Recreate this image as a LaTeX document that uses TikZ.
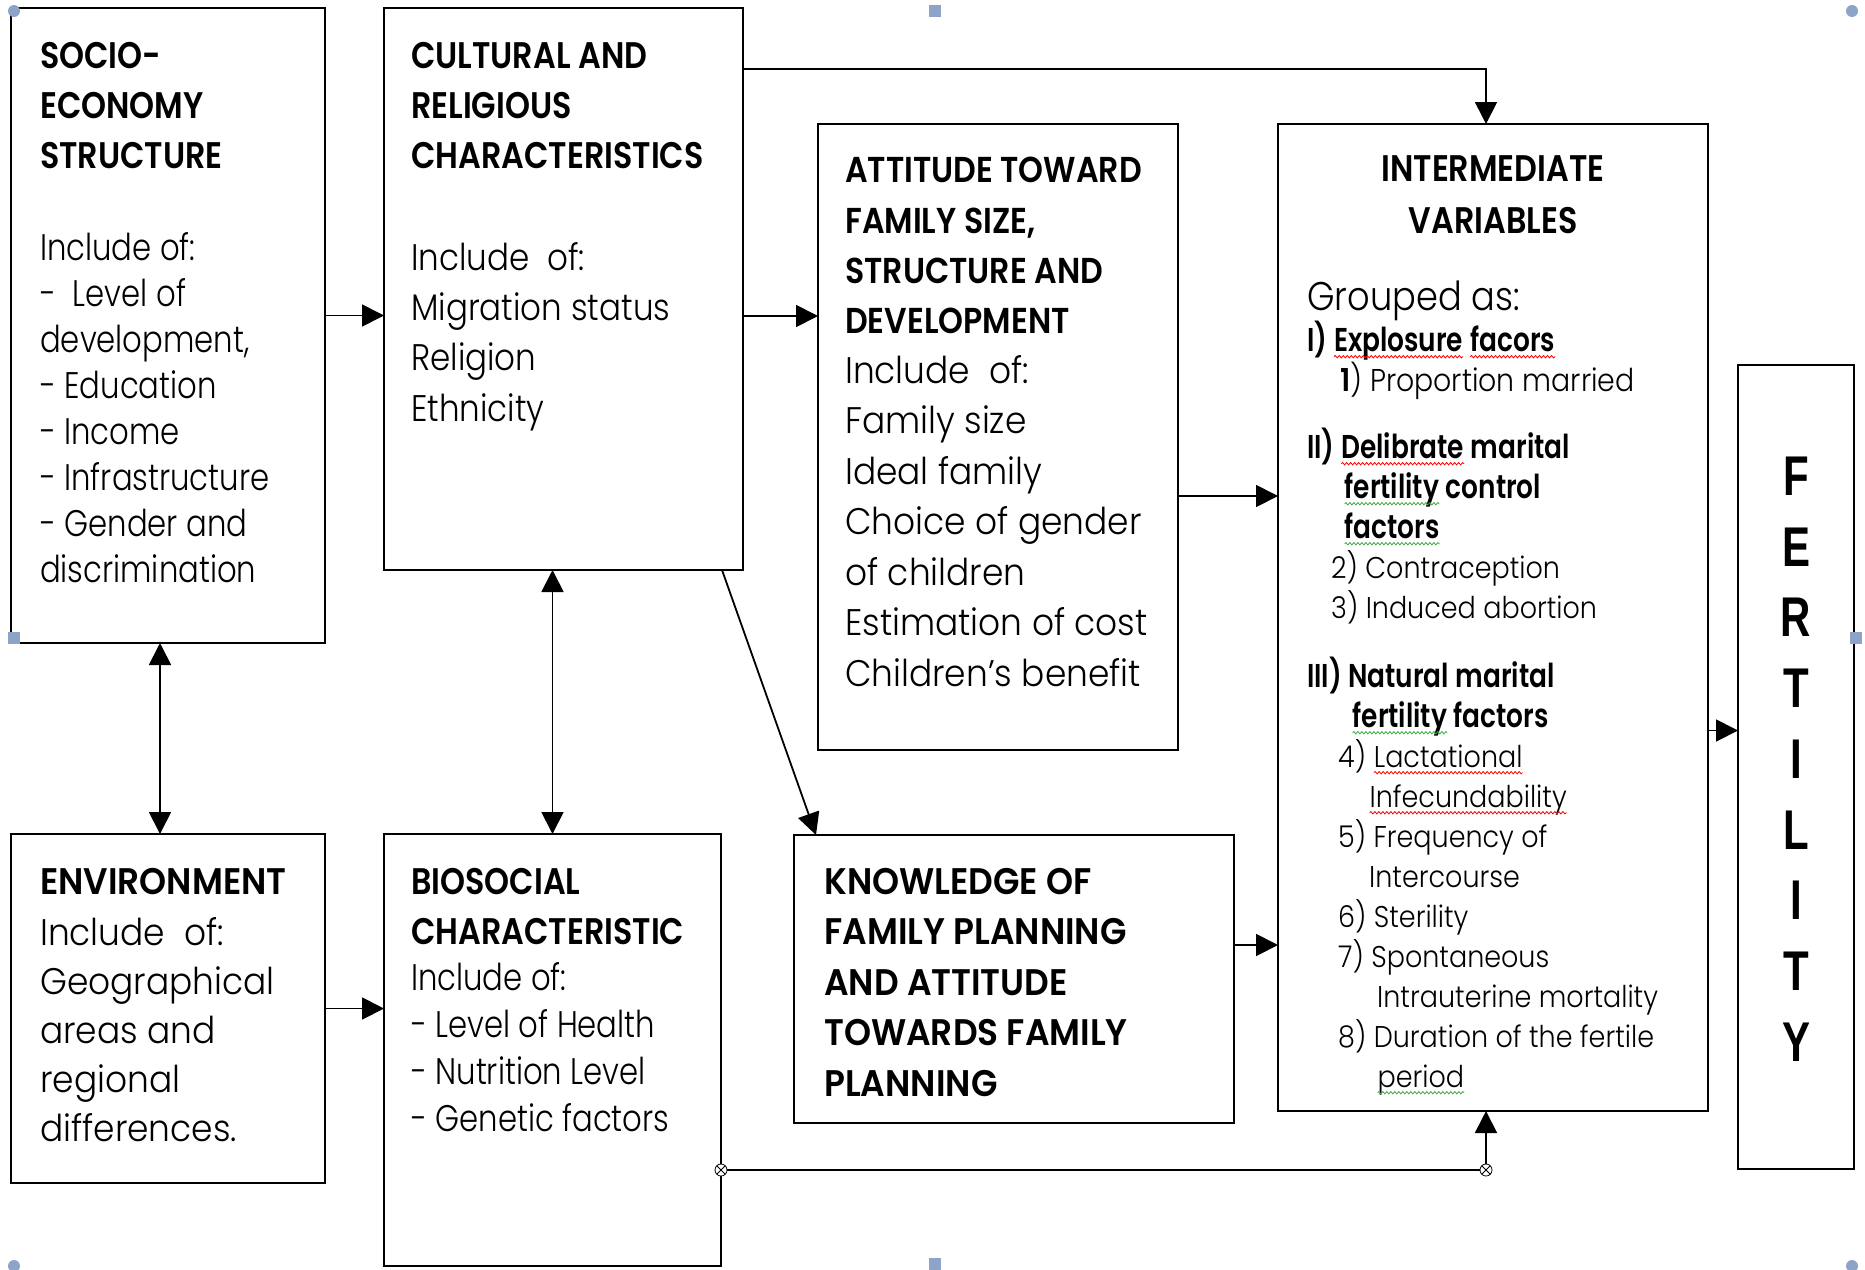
\documentclass[tikz,border=0pt]{standalone}
\usepackage{fontspec}
\usetikzlibrary{arrows.meta, decorations.pathmorphing}

\setmainfont{Poppins}
\newfontfamily\gothic{Poppins Light}[FakeStretch=0.88, BoldFont=Poppins SemiBold]
\newfontfamily\gothicnarrow{Poppins Light}[FakeStretch=0.83]
\newfontfamily\gothicwide{Poppins Light}[FakeStretch=0.93]
\newfontfamily\gothiclist{Poppins Light}[FakeStretch=0.9, BoldFont=Poppins SemiBold]
\newfontfamily\gothichead{Poppins SemiBold}[FakeStretch=0.86]
\newfontfamily\gothicatt{Poppins SemiBold}[FakeStretch=0.88]
\newfontfamily\gothicknow{Poppins SemiBold}[FakeStretch=0.93]
\newfontfamily\gothicgrp{Poppins SemiBold}[FakeStretch=0.8]
\newfontfamily\fertfont{Liberation Sans}[FakeStretch=0.75]

\definecolor{handle}{RGB}{141,163,199}
\definecolor{spellgreen}{RGB}{60,170,60}

\newcommand\spellwave[2]{\tikz[baseline = (w.base)]{\node [inner sep = 0pt, outer sep = 0pt, font = {}, anchor = base] (w) {#2}; \draw [#1, line width = .8pt, decorate, decoration = {snake, amplitude = 1.2pt, segment length = 4pt}] ([yshift = -5pt]w.base west) -- ([yshift = -5pt]w.base east);}}
\newcommand\redwave[1]{\spellwave{red}{#1}}
\newcommand\greenwave[1]{\spellwave{spellgreen}{#1}}
\newcommand\grp[1]{{\gothicgrp\fontsize{33}{40}\selectfont #1}}

\tikzset{
    box/.style = {draw, line width = 2pt, inner sep = 0pt, outer sep = 0pt, anchor = north west},
    head/.style = {anchor = north west, inner sep = 0pt, align = left, font = \gothichead\fontsize{37}{50}\selectfont},
    body/.style = {anchor = north west, inner sep = 0pt, align = left, font = \gothic\fontsize{37}{#1}\selectfont},
    body/.default = 50,
    list/.style = {anchor = north west, inner sep = 0pt, align = left, font = \gothiclist\fontsize{30}{40}\selectfont},
    fert/.style = {inner sep = 0pt, font = \fertfont\bfseries\fontsize{56}{56}\selectfont},
    link/.style = {line width = 1.8pt},
    joint/.style = {line width = .8pt, fill = white},
}

\begin{document}
\begin{tikzpicture}[x = 1pt, y = -1pt, >= {Triangle[length = 22pt, width = 22pt]}]
    \useasboundingbox (0, 0) rectangle (1865, 1269);

    % boxes
    \node [box, minimum width = 314pt, minimum height = 635pt] (socio) at (11, 8) {};
    \node [box, minimum width = 359pt, minimum height = 562pt] (cultural) at (384, 8) {};
    \node [box, minimum width = 360pt, minimum height = 626pt] (attitude) at (818, 124) {};
    \node [box, minimum width = 430pt, minimum height = 987pt] (inter) at (1278, 124) {};
    \node [box, minimum width = 116pt, minimum height = 804pt] (fert) at (1738, 365) {};
    \node [box, minimum width = 314pt, minimum height = 349pt] (env) at (11, 834) {};
    \node [box, minimum width = 337pt, minimum height = 432pt] (bio) at (384, 834) {};
    \node [box, minimum width = 440pt, minimum height = 288pt] (know) at (794, 835) {};

    %%%%%%%%%%%%%%%%%%%%
    \node [head] (sociohead) at (40, 42) {SOCIO-\\ECONOMY\\STRUCTURE};
    \node [body, font = \gothicnarrow\fontsize{37}{46}\selectfont] (sociobody) at (40, 232) {Include of:\\-\ \ Level of\\development,\\- Education\\- Income\\- Infrastructure\\- Gender and\\discrimination};

    \node [head] (culthead) at (411, 42) {CULTURAL AND\\RELIGIOUS\\CHARACTERISTICS};
    \node [body = 50.3] (cultbody) at (411, 242) {Include\ \ of:\\Migration status\\Religion\\Ethnicity};

    \node [head, font = \gothicatt\fontsize{36}{50.4}\selectfont] (atthead) at (845, 157) {ATTITUDE TOWARD\\FAMILY SIZE,\\STRUCTURE AND\\DEVELOPMENT};
    \node [body, font = \gothicwide\fontsize{37}{50.5}\selectfont] (attbody) at (845, 355) {Include\ \ of:\\Family size\\Ideal family\\Choice of gender\\of children\\Estimation of cost\\Children’s benefit};

    \node [head, anchor = north, align = center, font = \gothichead\fontsize{37}{52.6}\selectfont] (interhead) at (1493, 155) {INTERMEDIATE\\VARIABLES};
    \node [body, font = \gothic\fontsize{40}{40}\selectfont] (grouped) at (1307, 281) {Grouped as:};
    \node [list] (interlist) at (1307, 321) {%
        \grp{I) \redwave{Explosure} \redwave{facors}}\\
        \hspace*{33pt}{\fontsize{31.5}{40}\selectfont\textbf{1}) Proportion married}\\[27pt]
        \grp{II) \redwave{Delibrate} marital}\\
        \hspace*{37pt}\grp{\greenwave{fertility} control}\\
        \hspace*{37pt}\grp{\greenwave{factors}}\\
        \hspace*{24pt}2) Contraception\\
        \hspace*{24pt}3) Induced abortion\\[29pt]
        \grp{III) Natural marital}\\
        \hspace*{45pt}\grp{\greenwave{fertility} factors}\\
        \hspace*{31pt}4) \redwave{Lactational}\\
        \hspace*{62pt}\redwave{Infecundability}\\
        \hspace*{31pt}5) Frequency of\\
        \hspace*{62pt}Intercourse\\
        \hspace*{31pt}6) Sterility\\
        \hspace*{31pt}7) Spontaneous\\
        \hspace*{70pt}Intrauterine mortality\\
        \hspace*{31pt}8) Duration of the fertile\\
        \hspace*{70pt}\greenwave{period}};

    \foreach \l [count = \i] in {F, E, R, T, I, L, I, T, Y}
        \node [fert] (fert\i) at (1796, {476 + 70.75*(\i - 1)}) {\l};

    \node [head, font = \gothicknow\fontsize{37}{50}\selectfont] (envhead) at (40, 868) {ENVIRONMENT};
    \node [body, font = \gothicwide\fontsize{37}{49}\selectfont] (envbody) at (40, 917) {Include\ \ of:\\Geographical\\areas and\\regional\\differences.};

    \node [head] (biohead) at (411, 868) {BIOSOCIAL\\CHARACTERISTIC};
    \node [body, font = \gothicnarrow\fontsize{37}{47}\selectfont] (biobody) at (411, 962) {Include of:\\- Level of Health\\- Nutrition Level\\- Genetic factors};

    \node [head, font = \gothicknow\fontsize{37}{50.4}\selectfont] (knowhead) at (824, 868) {KNOWLEDGE OF\\FAMILY PLANNING\\AND ATTITUDE\\TOWARDS FAMILY\\PLANNING};

    %%%%%%%%%%%%%%%%%%%%
    % connectors
    \draw [link, ->] ([yshift = 10pt]socio.east) -- ([yshift = 10pt]socio.east -| cultural.west);
    \draw [link, ->] ([yshift = -27pt]cultural.east) -- ([yshift = -27pt]cultural.east -| attitude.west);
    \draw [link, ->] ([yshift = -61pt]cultural.north east) -| ([xshift = -7pt]inter.north);
    \draw [link, ->] ([yshift = -59pt]attitude.east) -- ([yshift = -59pt]attitude.east -| inter.west);
    \draw [link, ->] ([xshift = -21pt]cultural.south east) -- ([xshift = 22pt]know.north west);
    \draw [link, <->] ([xshift = -8pt]socio.south) -- ([xshift = -8pt]env.north);
    \draw [link, <->] (bio.north |- cultural.south) -- (bio.north);
    \draw [link, ->] (env.east) -- (env.east -| bio.west);
    \draw [link, ->] ([yshift = 34pt]know.east) -- ([yshift = 34pt]know.east -| inter.west);
    \draw [link, ->] ([yshift = -113pt]inter.east) -- ([yshift = -113pt]inter.east -| fert.west);

    \coordinate (b1) at ([yshift = -120pt]bio.east);
    \coordinate (ib) at ([xshift = -7pt]inter.south);
    \coordinate (b2) at (b1 -| ib);
    \draw [link] (b1) -- (b2);
    \draw [link, ->] (b2) -- (ib);
    \foreach \p in {b1, b2}
        \draw [joint] (\p) circle (6pt) ++(-4, -4) -- ++(8, 8) ++(0, -8) -- ++(-8, 8);

    %%%%%%%%%%%%%%%%%%%%
    % selection handles
    \foreach \p in {(14, 11), (1852, 11), (14, 1266), (1852, 1266)}
        \fill [handle] \p circle (6pt);
    \foreach \p in {(935, 11), (14, 638), (1856, 638), (935, 1264)}
        \fill [handle] \p ++(-6, -6) rectangle ++(12, 12);
\end{tikzpicture}
\end{document}
